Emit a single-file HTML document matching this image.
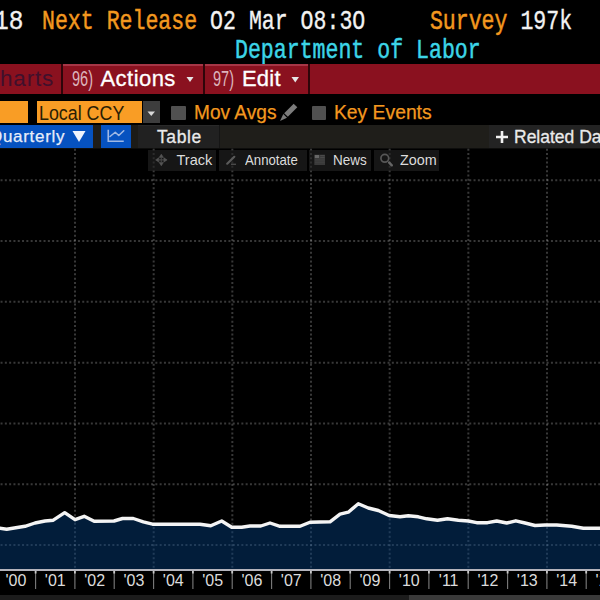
<!DOCTYPE html>
<html><head><meta charset="utf-8">
<style>
*{margin:0;padding:0;box-sizing:border-box}
html,body{width:600px;height:600px;overflow:hidden;background:#000}
body{position:relative;font-family:"Liberation Sans",sans-serif}
.a{position:absolute;white-space:pre}
.mono{font-family:"Liberation Mono",monospace;font-size:28.5px;line-height:32px;transform-origin:0 0;transform:scaleX(0.756);-webkit-text-stroke:0.35px currentColor}
.or{color:#f3981f}.wh{color:#f2f2f2}.cy{color:#3cd5e7}
.mono .or,.mono.cy{-webkit-text-stroke:0.5px currentColor}
.bar{position:absolute;background:#8a111f}
.hl{box-shadow:inset 0 2px 0 #a63646}
.dv{position:absolute;background:#2e0509}
.lab{top:570.5px;width:40px;text-align:center;font-size:16px;line-height:20px;color:#dcdcdc}
</style></head><body>

<!-- Row 1 -->
<div class="a mono wh" style="left:-6px;top:5.5px;transform:scaleX(0.86)">18</div>
<div class="a mono" style="left:42px;top:5.5px"><span class="or">Next Release</span><span class="wh"> O2 Mar O8:3O     </span><span class="or">Survey</span><span class="wh"> 197k</span></div>
<!-- Row 2 -->
<div class="a mono cy" style="left:235px;top:34.5px">Department of Labor</div>

<!-- Red bar -->
<div class="bar" style="left:0;top:64px;width:61px;height:30px"></div>
<div class="dv" style="left:61px;top:64px;width:2px;height:30px"></div>
<div class="bar hl" style="left:63px;top:64px;width:140px;height:30px"></div>
<div class="dv" style="left:203px;top:64px;width:2px;height:30px"></div>
<div class="bar hl" style="left:205px;top:64px;width:103px;height:30px"></div>
<div class="dv" style="left:308px;top:64px;width:2px;height:30px"></div>
<div class="bar" style="left:310px;top:64px;width:290px;height:30px"></div>
<div class="a" style="left:0px;top:65.5px;font-size:22.5px;line-height:25px;letter-spacing:0.8px;color:#40102c">harts</div>
<div class="a" style="left:72px;top:66px;font-size:22px;line-height:25px;color:#dcb4bc;transform-origin:0 0;transform:scaleX(0.66)">96)</div>
<div class="a" style="left:100.5px;top:66px;font-size:22px;line-height:25px;letter-spacing:0.45px;-webkit-text-stroke:0.3px #fff;color:#fff">Actions</div>
<svg class="a" style="left:186px;top:76px" width="8" height="7"><path d="M0.5 1 L7.5 1 L4 6 Z" fill="#e6e6e6"/></svg>
<div class="a" style="left:213px;top:66px;font-size:22px;line-height:25px;color:#dcb4bc;transform-origin:0 0;transform:scaleX(0.66)">97)</div>
<div class="a" style="left:242px;top:66px;font-size:22px;line-height:25px;letter-spacing:0.2px;-webkit-text-stroke:0.3px #fff;color:#fff">Edit</div>
<svg class="a" style="left:291px;top:76px" width="9" height="7"><path d="M0.5 1 L8 1 L4.25 6.5 Z" fill="#e6e6e6"/></svg>

<!-- Row 4 -->
<div class="a" style="left:0;top:101px;width:28px;height:22px;background:#f99d25"></div>
<div class="a" style="left:37px;top:101px;width:105px;height:22px;background:#f99d25"></div>
<div class="a" style="left:38.5px;top:101.5px;font-size:19.5px;line-height:22px;color:#2a2004;transform-origin:0 0;transform:scaleX(0.915)">Local CCY</div>
<div class="a" style="left:143px;top:101px;width:17px;height:22px;background:#3d3d3d"></div>
<svg class="a" style="left:147px;top:110.5px" width="9" height="6"><path d="M0.5 0.5 L8 0.5 L4.25 5 Z" fill="#d8d8d8"/></svg>
<div class="a" style="left:171px;top:105.5px;width:14.5px;height:14px;background:#505050;border-radius:1px"></div>
<div class="a or" style="left:194px;top:101px;font-size:20px;line-height:22px;-webkit-text-stroke:0.25px currentColor;transform-origin:0 0;transform:scaleX(0.955)">Mov Avgs</div>
<svg class="a" style="left:276px;top:100px" width="24" height="24"><path d="M17.66 3.66 L21.34 7.34 L11.84 16.84 L8.16 13.16 Z" fill="#7c7c7c"/><path d="M10.99 17.69 L7.31 14.01 L4 21 Z" fill="#7c7c7c"/></svg>
<div class="a" style="left:312px;top:105.5px;width:14px;height:14px;background:#505050;border-radius:1px"></div>
<div class="a or" style="left:334px;top:101px;font-size:20px;line-height:22px;-webkit-text-stroke:0.25px currentColor;transform-origin:0 0;transform:scaleX(0.965)">Key Events</div>

<!-- Row 5 -->
<div class="a" style="left:0;top:125px;width:600px;height:23px;background:#1f1e1a"></div>
<div class="a" style="left:0;top:148px;width:600px;height:1px;background:#0d0d0c"></div>
<div class="a" style="left:0;top:125px;width:93px;height:23px;background:#0652c0"></div>
<div class="a" style="left:-11px;top:127px;font-size:17px;line-height:19px;letter-spacing:0.7px;-webkit-text-stroke:0.25px #e8eefa;color:#e8eefa">Quarterly</div>
<svg class="a" style="left:72px;top:130px" width="14" height="13"><path d="M0.5 1 L13.5 1 L7 12 Z" fill="#f0f4fc"/></svg>
<div class="a" style="left:93px;top:125px;width:8px;height:23px;background:#1f1d19"></div>
<div class="a" style="left:101px;top:125px;width:30px;height:23px;background:#0652c0"></div>
<svg class="a" style="left:101px;top:125px" width="30" height="23"><path d="M7.25 4.75 V16.25 H22.75" stroke="#9fb8e4" stroke-width="1.6" fill="none"/><path d="M9 11.5 L14.25 7.25 L17.75 10.5 L22.75 5.75" stroke="#9fb8e4" stroke-width="1.6" fill="none" stroke-linejoin="round" stroke-linecap="round"/></svg>
<div class="a" style="left:131px;top:125px;width:7px;height:23px;background:#1c1b17"></div>
<div class="a" style="left:138px;top:125px;width:81px;height:23px;background:#212121;box-shadow:inset 0 1px 0 #292929"></div>
<div class="a" style="left:219px;top:125px;width:1px;height:23px;background:#151515"></div>
<div class="a" style="left:157px;top:127px;font-size:17.5px;line-height:20px;letter-spacing:0.6px;-webkit-text-stroke:0.3px #eaeaea;color:#eaeaea">Table</div>
<div class="a" style="left:489px;top:125px;width:111px;height:23px;background:#232323"></div>
<svg class="a" style="left:495px;top:130px" width="15" height="14"><path d="M7 1 V13 M1 7 H13" stroke="#f0f0f0" stroke-width="2.6"/></svg>
<div class="a" style="left:514px;top:127px;font-size:17.5px;line-height:20px;-webkit-text-stroke:0.3px #eaeaea;color:#eaeaea">Related Data</div>

<!-- Chart -->
<svg class="a" style="left:0;top:0" width="600" height="600">
  <g stroke="#ffffff" stroke-opacity="0.22" stroke-width="2" stroke-dasharray="2 2.3" fill="none">
    <path d="M75.00 148 V569 M153.67 148 V569 M232.33 148 V569 M311.00 148 V569 M389.67 148 V569 M468.34 148 V569 M547.00 148 V569" stroke-dashoffset="-0.65"/>
    <path d="M0 180.25 H600 M0 241.05 H600 M0 301.85 H600 M0 362.65 H600 M0 423.45 H600 M0 484.25 H600 M0 545.05 H600" stroke-dashoffset="-0.55"/>
  </g>
  <path d="M-2 528 L6.7 529.3 L25 526.3 L35 523 L45 521 L53.3 520.2 L64.7 512.7 L75 519.7 L84.2 516.3 L94.2 521.3 L114 521 L122.5 518.5 L133.3 518.5 L143.3 521.8 L152.5 524.2 L200 524.2 L210.8 525.8 L221.7 521 L231.7 527.2 L241.7 527.2 L250 526 L260.8 526 L270 523 L280 526.3 L300 526.3 L310 522.2 L330 521.8 L340 514.2 L348.3 512.2 L358.3 503.8 L368.3 508 L378.3 510.5 L389.2 515.5 L400 516.8 L408.3 515.8 L418.3 516.8 L426.7 518.8 L437.5 520.2 L447.5 518.8 L458.3 520.2 L468.3 521 L476.7 522.7 L487.5 522.7 L496.7 521 L506.7 523 L515.8 520.8 L525 523 L535 525.5 L545 525 L556.7 525 L571.7 526.3 L583.3 528.3 L602 528.3 L602 569 L-2 569 Z" fill="rgb(4,64,129)" fill-opacity="0.45"/>
  <path d="M-2 528 L6.7 529.3 L25 526.3 L35 523 L45 521 L53.3 520.2 L64.7 512.7 L75 519.7 L84.2 516.3 L94.2 521.3 L114 521 L122.5 518.5 L133.3 518.5 L143.3 521.8 L152.5 524.2 L200 524.2 L210.8 525.8 L221.7 521 L231.7 527.2 L241.7 527.2 L250 526 L260.8 526 L270 523 L280 526.3 L300 526.3 L310 522.2 L330 521.8 L340 514.2 L348.3 512.2 L358.3 503.8 L368.3 508 L378.3 510.5 L389.2 515.5 L400 516.8 L408.3 515.8 L418.3 516.8 L426.7 518.8 L437.5 520.2 L447.5 518.8 L458.3 520.2 L468.3 521 L476.7 522.7 L487.5 522.7 L496.7 521 L506.7 523 L515.8 520.8 L525 523 L535 525.5 L545 525 L556.7 525 L571.7 526.3 L583.3 528.3 L602 528.3" fill="none" stroke="#f4f4f4" stroke-width="3.4" stroke-linejoin="round"/>
  <rect x="0" y="569" width="600" height="2" fill="#b4b4bc"/>
  <path d="M35.6 571 V589 M74.9 571 V589 M114.2 571 V589 M153.6 571 V589 M192.9 571 V589 M232.2 571 V589 M271.6 571 V589 M310.9 571 V589 M350.2 571 V589 M389.6 571 V589 M428.9 571 V589 M468.2 571 V589 M507.6 571 V589 M546.9 571 V589 M586.2 571 V589" stroke="#7c7c7c" stroke-width="1.1"/>
  <path d="M35.6 571 V573.5 M74.9 571 V573.5 M114.2 571 V573.5 M153.6 571 V573.5 M192.9 571 V573.5 M232.2 571 V573.5 M271.6 571 V573.5 M310.9 571 V573.5 M350.2 571 V573.5 M389.6 571 V573.5 M428.9 571 V573.5 M468.2 571 V573.5 M507.6 571 V573.5 M546.9 571 V573.5 M586.2 571 V573.5" stroke="#c8c8c8" stroke-width="1.8"/>
  <rect x="0" y="595" width="600" height="5" fill="#1c1c1c"/>
  <rect x="409" y="595" width="191" height="5" fill="#3a3a3a"/>
</svg>

<!-- Toolbar -->
<div class="a" style="left:148px;top:150px;width:68px;height:21px;background:rgba(37,37,37,0.6)"></div>
<div class="a" style="left:219px;top:150px;width:88px;height:21px;background:rgba(37,37,37,0.6)"></div>
<div class="a" style="left:309px;top:150px;width:62px;height:21px;background:rgba(37,37,37,0.6)"></div>
<div class="a" style="left:374px;top:150px;width:65px;height:21px;background:rgba(37,37,37,0.6)"></div>
<svg class="a" style="left:150px;top:150px" width="20" height="20"><path d="M11.3 4.2 L13.4 7.4 L9.2 7.4 Z M11.3 15.8 L13.4 12.4 L9.2 12.4 Z M5.6 9.9 L8.8 7.8 L8.8 12 Z M17.1 9.9 L13.9 7.8 L13.9 12 Z" fill="#555" stroke="#555" stroke-width="0.6" stroke-linejoin="round"/><path d="M11.3 7 V13 M8.5 9.9 H14.2" stroke="#464646" stroke-width="1.1"/></svg>
<div class="a" style="left:176.5px;top:152px;font-size:14.5px;line-height:17px;color:#dcdcdc">Track</div>
<svg class="a" style="left:220px;top:150px" width="20" height="20"><path d="M7.2 13.7 L14.3 6.8" stroke="#5a5a5a" stroke-width="2.2" stroke-linecap="round"/><path d="M11 14.3 H16" stroke="#4a4a4a" stroke-width="1.4"/></svg>
<div class="a" style="left:245px;top:152px;font-size:14.5px;line-height:17px;color:#dcdcdc;transform-origin:0 0;transform:scaleX(0.91)">Annotate</div>
<svg class="a" style="left:310px;top:150px" width="20" height="20"><rect x="4.3" y="4.7" width="10.7" height="10.3" fill="#3a3a3a"/><rect x="4.8" y="5" width="4.2" height="3" fill="#666"/><path d="M10.2 5.6 H14.6 M10.2 7.6 H14.6" stroke="#4e4e4e" stroke-width="0.9"/><path d="M4.8 10 H14.6 M4.8 12.2 H14.6" stroke="#444" stroke-width="0.8"/></svg>
<div class="a" style="left:333px;top:152px;font-size:14.5px;line-height:17px;color:#dcdcdc;transform-origin:0 0;transform:scaleX(0.93)">News</div>
<svg class="a" style="left:376px;top:150px" width="20" height="20"><circle cx="8.8" cy="8.3" r="3.9" stroke="#575757" stroke-width="1.7" fill="none"/><path d="M13.2 12.6 L15.8 15.3" stroke="#666" stroke-width="2.4" stroke-linecap="round"/></svg>
<div class="a" style="left:400px;top:152px;font-size:14.5px;line-height:17px;color:#dcdcdc;transform-origin:0 0;transform:scaleX(0.99)">Zoom</div>

<!-- Axis labels -->
<div class="a lab" style="left:-4.0px">'00</div><div class="a lab" style="left:35.3px">'01</div><div class="a lab" style="left:74.7px">'02</div><div class="a lab" style="left:114.0px">'03</div><div class="a lab" style="left:153.3px">'04</div><div class="a lab" style="left:192.7px">'05</div><div class="a lab" style="left:232.0px">'06</div><div class="a lab" style="left:271.3px">'07</div><div class="a lab" style="left:310.7px">'08</div><div class="a lab" style="left:350.0px">'09</div><div class="a lab" style="left:389.3px">'10</div><div class="a lab" style="left:428.7px">'11</div><div class="a lab" style="left:468.0px">'12</div><div class="a lab" style="left:507.3px">'13</div><div class="a lab" style="left:546.7px">'14</div><div class="a lab" style="left:586.0px">'15</div>
</body></html>
